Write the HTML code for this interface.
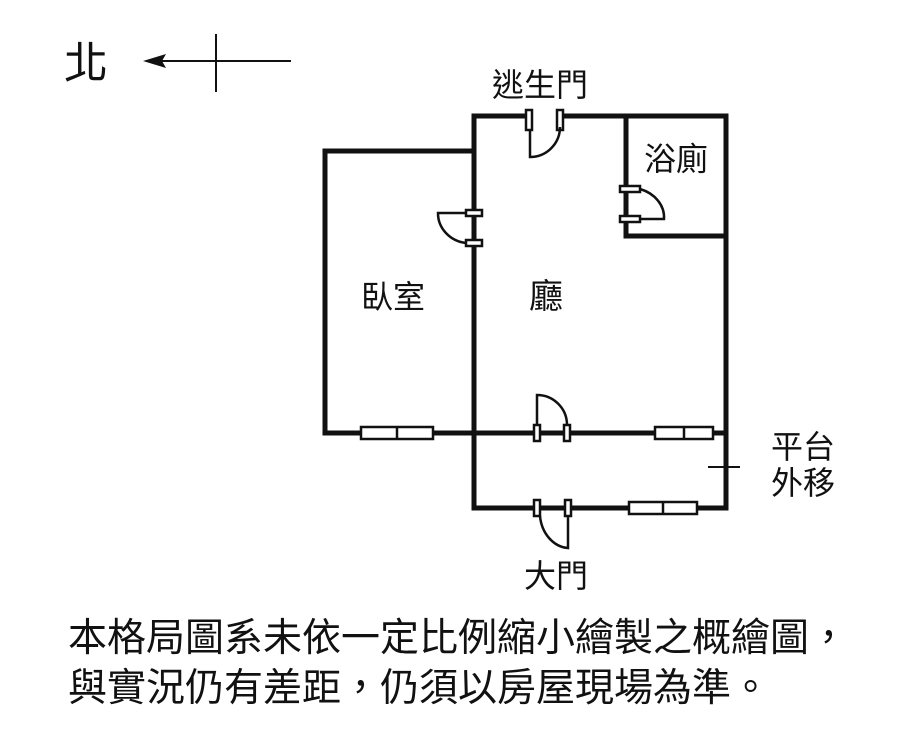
<!DOCTYPE html>
<html><head><meta charset="utf-8"><style>
body{margin:0;background:#fff;width:900px;height:732px;overflow:hidden}
text{font-family:"Liberation Sans","Noto Sans CJK TC",sans-serif;fill:#111}
</style></head><body>
<svg width="900" height="732" viewBox="0 0 900 732">
<g stroke="#111" fill="none">
<line x1="150" y1="61" x2="291" y2="61" stroke-width="2"/>
<line x1="216" y1="34" x2="216" y2="92" stroke-width="2"/>
</g>
<polygon points="143,61 166,54 162,61 166,68" fill="#111"/>
<text x="64" y="78" font-size="44">北</text>
<g stroke="#111" stroke-width="5" fill="none" stroke-linecap="square">
<polyline points="474,433 474,116 726,116 726,508 474,508 474,433"/>
<polyline points="474,151 325,151 325,433 726,433"/>
<polyline points="626,116 626,236 726,236"/>
</g>
<g fill="#fff">
<rect x="531" y="110" width="28" height="12"/>
</g>
<g stroke="#111" stroke-width="2.5" fill="#fff">
<rect x="526" y="110" width="6" height="20"/>
<rect x="557" y="110" width="6" height="20"/>
<path d="M530,130 L530,157 A30,30 0 0 0 560,127" fill="none"/>
<rect x="620" y="186" width="20" height="6"/>
<rect x="620" y="216" width="20" height="6"/>
<path d="M640,219 L664,219 A36,30 0 0 0 640,189" fill="none"/>
<rect x="466" y="210" width="16" height="6"/>
<rect x="466" y="240" width="16" height="6"/>
<path d="M466,213 L438,213 A32,30 0 0 0 466,243" fill="none"/>
<rect x="534" y="425" width="6" height="16"/>
<rect x="564" y="425" width="6" height="16"/>
<path d="M537,425 L537,395 A30,30 0 0 1 567,425" fill="none"/>
<rect x="534" y="500" width="6" height="16"/>
<rect x="565" y="500" width="6" height="16"/>
<path d="M568,516 L568,548 A30,36 0 0 1 540,516" fill="none"/>
<rect x="361" y="427" width="72" height="12"/>
<line x1="397" y1="427" x2="397" y2="439"/>
<rect x="655" y="427" width="58" height="12"/>
<line x1="684" y1="427" x2="684" y2="439"/>
<rect x="629" y="502" width="68" height="12"/>
<line x1="663" y1="502" x2="663" y2="514"/>
</g>
<line x1="708" y1="467" x2="740" y2="467" stroke="#111" stroke-width="2"/>
<text x="492" y="96" font-size="32">逃生門</text>
<text x="644" y="170" font-size="32">浴廁</text>
<text x="361" y="308" font-size="32">臥室</text>
<text x="529" y="308" font-size="34">廳</text>
<text x="771" y="458" font-size="32">平台</text>
<text x="771" y="494" font-size="32">外移</text>
<text x="524" y="587" font-size="32">大門</text>
<text x="68" y="651" font-size="39">本格局圖系未依一定比例縮小繪製之概繪圖，</text>
<text x="68" y="701" font-size="39">與實況仍有差距，仍須以房屋現場為準。</text>
</svg>
</body></html>
